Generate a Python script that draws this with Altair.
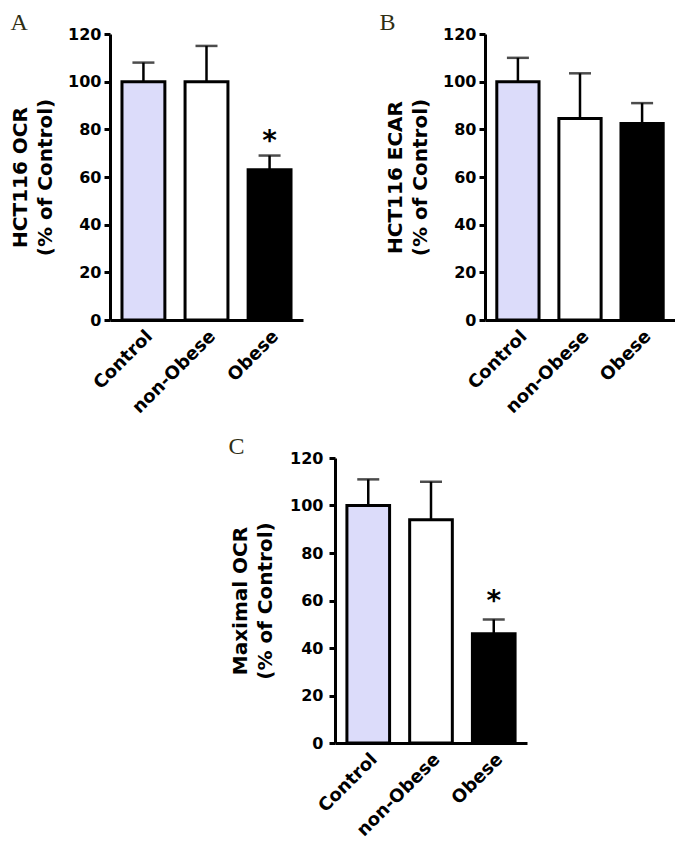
import altair as alt
import pandas as pd

cats = ["Control", "non-Obese", "Obese"]
fills = ["#dcdcfa", "#ffffff", "#000000"]

a_mean = [100, 100, 63]
a_err = [8, 15, 6]
a_star = [None, None, 77]

b_mean = [100, 84.5, 82.5]
b_err = [10, 19, 8.5]
b_star = [None, None, None]

c_mean = [100, 94, 46]
c_err = [11, 16, 6]
c_star = [None, None, 62]

y_ticks = [0, 20, 40, 60, 80, 100, 120]

FONT = "DejaVu Sans"


def panel(letter, ytitle, mean, err, star, width, height, title_dx=0,
          label_pad=3, title_pad=12):
    df = pd.DataFrame({
        "cat": cats,
        "mean": mean,
        "top": [m + e for m, e in zip(mean, err)],
        "fill": fills,
        "star": ["*" if s is not None else "" for s in star],
        "star_y": [s if s is not None else 0 for s in star],
    })
    base = alt.Chart(df)
    x = alt.X(
        "cat:N",
        sort=cats,
        scale=alt.Scale(paddingInner=0.32, paddingOuter=0.19),
        axis=alt.Axis(
            title=None, labelAngle=-45, ticks=False, domainWidth=3,
            domainColor="black", labelFont=FONT, labelFontSize=18,
            labelFontWeight="bold", labelColor="black", labelPadding=7,
        ),
    )
    yscale = alt.Scale(domain=[0, 120], nice=False)
    y = alt.Y(
        "mean:Q",
        scale=yscale,
        axis=alt.Axis(
            title=ytitle, values=y_ticks, grid=False, domainWidth=3,
            domainColor="black", tickWidth=3, tickSize=6, tickColor="black",
            labelFont=FONT, labelFontSize=16, labelFontWeight="bold",
            labelColor="black", labelPadding=label_pad, titleFont=FONT,
            titleFontSize=20, titleFontWeight="bold", titleColor="black",
            titlePadding=title_pad, titleLineHeight=25,
        ),
    )
    bars = base.mark_bar(stroke="black", strokeWidth=3).encode(
        x=x, y=y, fill=alt.Fill("fill:N", scale=None)
    )
    errs = base.mark_rule(strokeWidth=2.5, color="black").encode(
        x=x, y=alt.Y("mean:Q", scale=yscale), y2="top:Q"
    )
    caps = base.mark_tick(thickness=2.5, size=22, color="black").encode(
        x=x, y=alt.Y("top:Q", scale=yscale)
    )
    stars = base.mark_text(
        font=FONT, fontSize=28, fontWeight="bold", color="black",
        baseline="middle", dy=6
    ).encode(x=x, y=alt.Y("star_y:Q", scale=yscale), text="star:N")
    return alt.layer(bars, errs, caps, stars).properties(
        width=width, height=height,
        title=alt.TitleParams(
            letter, anchor="start", frame="bounds", font="Liberation Serif",
            fontSize=24, fontWeight="normal", color="#2e2e14", dx=title_dx,
            offset=-9,
        ),
    )


pa = panel("A", ["HCT116 OCR", "(% of Control)"], a_mean, a_err, a_star, 193, 286)
pb = panel("B", ["HCT116 ECAR", "(% of Control)"], b_mean, b_err, b_star, 190, 286, title_dx=-6)
pc = panel("C", ["Maximal OCR", "(% of Control)"], c_mean, c_err, c_star, 192, 285, title_dx=-2,
           label_pad=6, title_pad=14)

spacer = alt.Chart(pd.DataFrame({"v": [0]})).mark_point(opacity=0).encode(
    x=alt.X("v:Q", axis=None), y=alt.Y("v:Q", axis=None)
).properties(width=118, height=10)

top = alt.hconcat(pa, pb, spacing=76)
bottom = alt.hconcat(spacer, pc, spacing=0)
chart = alt.vconcat(top, bottom, spacing=18).properties(
    padding={"left": 2, "top": 3, "right": 0, "bottom": 0}
).configure_view(stroke=None)

chart.save("out.html", embed_options={"renderer": "svg", "actions": False})
